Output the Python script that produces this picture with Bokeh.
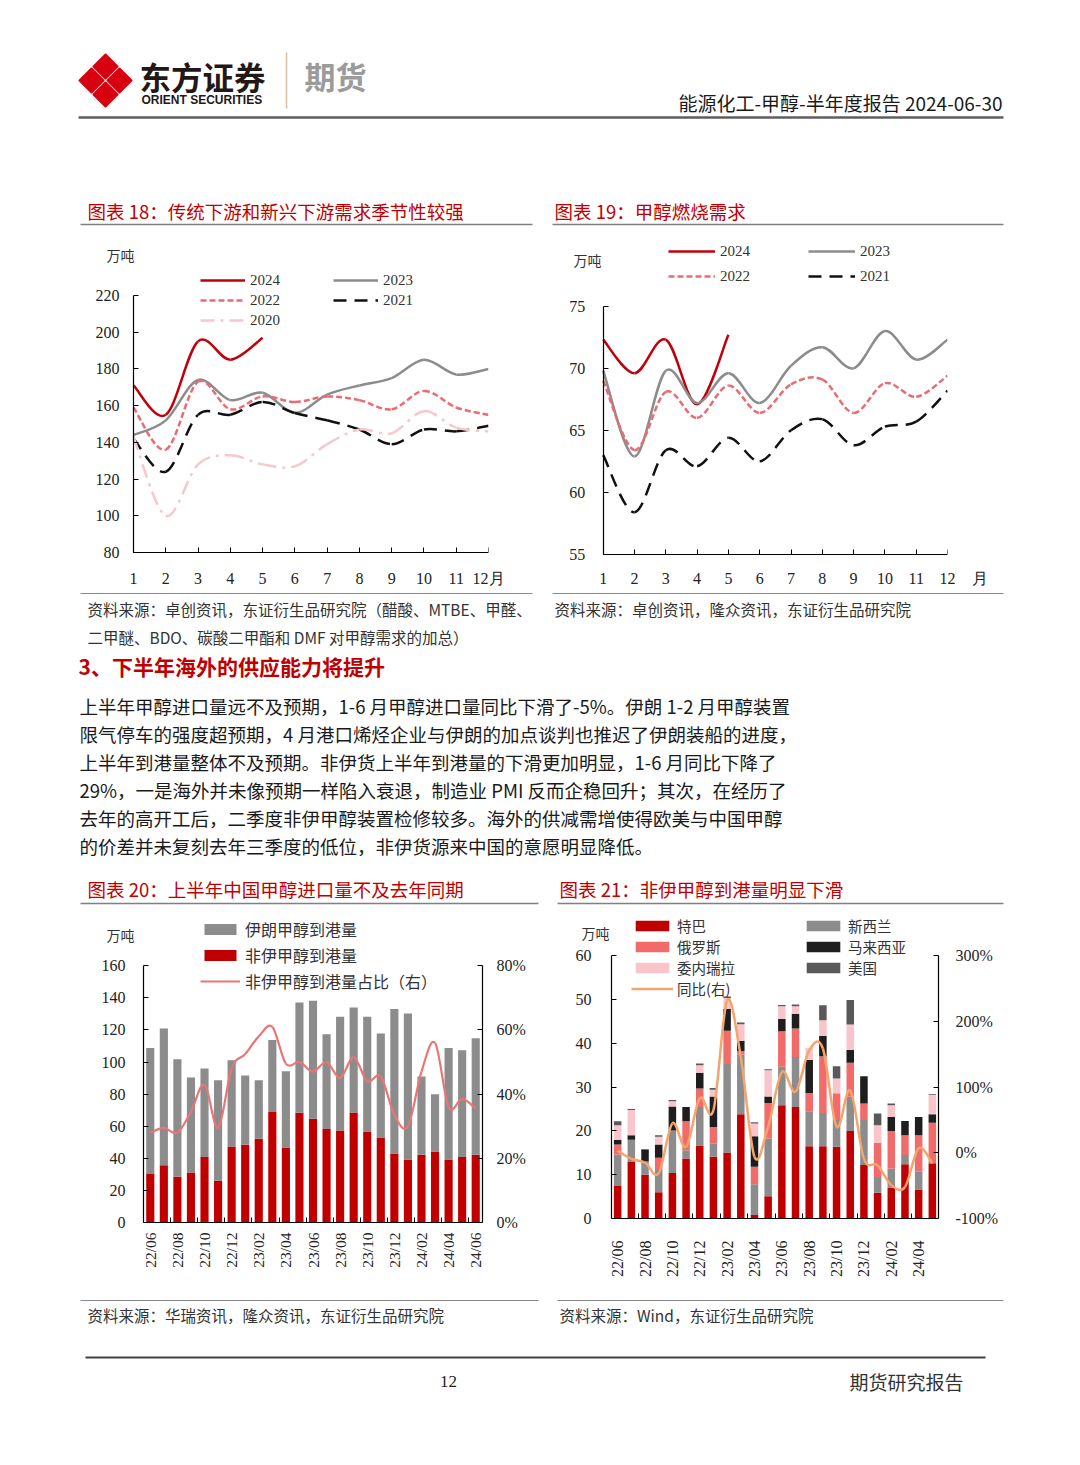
import math
from bokeh.plotting import figure
from bokeh.models import (Range1d, LinearAxis, FixedTicker, Legend, LegendItem, Label,
                          ColumnDataSource, PrintfTickFormatter)
from bokeh.layouts import column, row
from bokeh.core.properties import value
from bokeh.embed import file_html
from bokeh.resources import INLINE

CJK = "Noto Sans CJK SC"
SERIF = "Liberation Serif"
RED = "#C00000"

# ---------------- data ----------------
months = [1, 2, 3, 4, 5, 6, 7, 8, 9, 10, 11, 12]

# chart 18 (万吨)
c18_2024 = [171, 155, 195, 185, 197]
c18_2023 = [144, 152, 174, 163, 167, 156, 166, 171, 175, 185, 177, 180]
c18_2022 = [159, 136, 173, 158, 165, 162, 165, 163, 158, 168, 159, 155]
c18_2021 = [142, 124, 155, 155, 162, 156, 152, 147, 139, 147, 146, 149]
c18_2020 = [143, 100, 128, 133, 128, 127, 139, 147, 145, 157, 148, 146]

# chart 19 (万吨)
c19_2024 = [72.3, 69.6, 72.3, 67.1, 72.7]
c19_2023 = [69.8, 62.9, 69.8, 67.2, 69.6, 67.2, 70.2, 71.7, 70.0, 73.0, 70.7, 72.3]
c19_2022 = [69.0, 63.4, 68.1, 66.0, 68.6, 66.4, 68.7, 69.1, 66.4, 68.8, 67.7, 69.4]
c19_2021 = [63.0, 58.4, 63.4, 62.1, 64.4, 62.5, 65.0, 65.9, 63.8, 65.3, 65.7, 68.2]

# chart 20
cat20 = ["22/06", "22/07", "22/08", "22/09", "22/10", "22/11", "22/12", "23/01", "23/02",
         "23/03", "23/04", "23/05", "23/06", "23/07", "23/08", "23/09", "23/10", "23/11",
         "23/12", "24/01", "24/02", "24/03", "24/04", "24/05", "24/06"]
non_iran = [30.3, 35.7, 28.5, 31.2, 40.9, 26.0, 47.4, 48.4, 52.2, 68.8, 46.8, 68.4, 64.6,
            58.2, 57.4, 68.6, 56.7, 53.0, 43.0, 39.3, 42.2, 44.3, 39.3, 40.9, 42.2]
iran = [78.4, 85.2, 73.3, 59.2, 55.1, 62.7, 53.8, 43.2, 36.5, 44.9, 47.5, 68.7, 73.6,
        59.2, 70.8, 65.4, 71.5, 64.8, 90.0, 91.0, 48.8, 35.7, 69.4, 66.5, 72.7]
non_iran_share = [28, 29.5, 28, 34.5, 43, 29.5, 48, 52.5, 58, 61, 49.5, 50, 47, 50, 45,
                  51.5, 44, 45.5, 33.5, 30, 47, 56, 36, 38.5, 35.5]

# chart 21
cat21 = ["22/06", "22/07", "22/08", "22/09", "22/10", "22/11", "22/12", "23/01", "23/02",
         "23/03", "23/04", "23/05", "23/06", "23/07", "23/08", "23/09", "23/10", "23/11",
         "23/12", "24/01", "24/02", "24/03", "24/04", "24/05"]
tb = [7.4, 13.0, 10.0, 6.0, 10.4, 13.7, 16.7, 14.1, 15.1, 23.8, 0.8, 5.1, 25.9, 25.5, 16.5,
      16.5, 16.4, 20.0, 12.2, 5.9, 7.0, 12.4, 6.6, 12.6]
nz = [7.2, 5.0, 3.0, 5.1, 9.7, 1.9, 8.8, 3.0, 20.2, 13.7, 7.0, 13.2, 8.8, 11.4, 7.9, 7.6,
      6.1, 7.8, 10.3, 3.6, 4.4, 2.1, 4.1, 0.0]
ru = [2.3, 0.0, 0.0, 2.8, 0.0, 6.6, 4.2, 3.8, 7.6, 0.8, 4.0, 8.1, 8.1, 6.5, 4.3, 13.0, 6.1,
      7.8, 3.8, 7.8, 8.6, 4.5, 8.3, 9.3]
my = [1.1, 1.0, 2.7, 3.0, 5.5, 3.3, 3.6, 7.0, 5.0, 2.3, 7.0, 1.5, 2.8, 3.4, 7.5, 4.6, 0.0,
      2.9, 6.2, 0.0, 3.2, 3.3, 4.2, 1.9]
ve = [3.3, 5.8, 0.0, 1.8, 1.2, 0.0, 1.7, 1.5, 2.5, 3.8, 2.9, 6.0, 2.9, 1.7, 2.8, 3.6, 3.4,
      5.8, 0.0, 4.0, 2.7, 0.0, 0.0, 4.4]
us = [0.9, 0.2, 0.2, 0.3, 0.3, 0.0, 0.4, 0.4, 0.3, 0.4, 0.3, 0.2, 0.3, 0.4, 0.0, 3.4, 2.8,
      5.6, 0.0, 2.7, 0.4, 0.0, 0.0, 0.2]
yoy = [3, -9, -15, -31, 45, 9, 83, 65, 232, 146, -6, 40, 123, 93, 156, 159, 40, 95, -9,
       -19, -49, -52, 7, -16]

para = [
    "上半年甲醇进口量远不及预期，1-6 月甲醇进口量同比下滑了-5%。伊朗 1-2 月甲醇装置",
    "限气停车的强度超预期，4 月港口烯烃企业与伊朗的加点谈判也推迟了伊朗装船的进度，",
    "上半年到港量整体不及预期。非伊货上半年到港量的下滑更加明显，1-6  月同比下降了",
    "29%，一是海外并未像预期一样陷入衰退，制造业 PMI 反而企稳回升；其次，在经历了",
    "去年的高开工后，二季度非伊甲醇装置检修较多。海外的供减需增使得欧美与中国甲醇",
    "的价差并未复刻去年三季度的低位，非伊货源来中国的意愿明显降低。",
]


# ---------------- helpers ----------------
def smooth_src(xs, ys):
    n = len(xs)
    d = dict(x0=[], y0=[], x1=[], y1=[], cx0=[], cy0=[], cx1=[], cy1=[])
    for i in range(n - 1):
        a = max(i - 1, 0)
        b = min(i + 2, n - 1)
        d["x0"].append(xs[i]); d["y0"].append(ys[i])
        d["x1"].append(xs[i + 1]); d["y1"].append(ys[i + 1])
        d["cx0"].append(xs[i] + (xs[i + 1] - xs[a]) / 6.0)
        d["cy0"].append(ys[i] + (ys[i + 1] - ys[a]) / 6.0)
        d["cx1"].append(xs[i + 1] - (xs[b] - xs[i]) / 6.0)
        d["cy1"].append(ys[i + 1] - (ys[b] - ys[i]) / 6.0)
    return ColumnDataSource(d)


def smooth_line(p, xs, ys, **kw):
    return p.bezier(x0="x0", y0="y0", x1="x1", y1="y1", cx0="cx0", cy0="cy0",
                    cx1="cx1", cy1="cy1", source=smooth_src(xs, ys), **kw)


def band(w, h, top):
    p = figure(width=w, height=h, x_range=Range1d(0, w), y_range=Range1d(top + h, top),
               x_axis_type=None, y_axis_type=None, output_backend="svg",
               toolbar_location=None, min_border=0, title=None)
    p.min_border_left = p.min_border_right = p.min_border_top = p.min_border_bottom = 0
    p.outline_line_color = None
    p.background_fill_color = "white"
    return p


def txt(p, x, y, s, size, color="#222222", font=CJK, align="left", bold=False):
    p.text(x=[x], y=[y], text=[s], text_font=value(font), text_font_size=size,
           text_color=color, text_align=align, text_baseline="middle",
           text_font_style="bold" if bold else "normal")


def hline(p, x0, x1, y, color="#808080", w=1.5):
    p.segment(x0=[x0], y0=[y], x1=[x1], y1=[y], line_color=color, line_width=w)


def chart(w, h, l, r, t, b, xr, yr):
    p = figure(width=w, height=h, x_range=Range1d(*xr), y_range=Range1d(*yr),
               output_backend="svg", toolbar_location=None, title=None,
               min_border_left=l, min_border_right=r, min_border_top=t, min_border_bottom=b)
    p.outline_line_color = None
    p.grid.visible = False
    p.background_fill_color = "white"
    return p


def style_axis(ax, size="16px", standoff=10, font=SERIF):
    ax.axis_line_color = "black"
    ax.axis_line_width = 1.2
    ax.major_tick_in = 5
    ax.major_tick_out = 0
    ax.major_tick_line_color = "black"
    ax.minor_tick_line_color = None
    ax.major_label_text_font = font
    ax.major_label_text_font_size = size
    ax.major_label_text_color = "#222222"
    ax.major_label_standoff = standoff


def label_only(ax, ticks, overrides, size, standoff, orientation=None):
    """Bottom axis in the panel that only carries the category / month labels."""
    ax.ticker = FixedTicker(ticks=ticks)
    if overrides:
        ax.major_label_overrides = overrides
    ax.axis_line_color = None
    ax.major_tick_line_color = None
    ax.minor_tick_line_color = None
    ax.major_label_text_font = SERIF
    ax.major_label_text_font_size = size
    ax.major_label_text_color = "#222222"
    ax.major_label_standoff = standoff
    if orientation is not None:
        ax.major_label_orientation = orientation


def line_x_axis(p, loc, tick_marks, bounds):
    """Bottom axis drawn at a data location: axis line and tick marks only (no labels)."""
    ax = LinearAxis(fixed_location=loc, bounds=bounds,
                    ticker=FixedTicker(ticks=[], minor_ticks=tick_marks))
    ax.axis_line_color = "black"
    ax.axis_line_width = 1.2
    ax.major_tick_line_color = None
    ax.minor_tick_in = 5
    ax.minor_tick_out = 0
    ax.minor_tick_line_color = "black"
    ax.major_label_standoff = 0
    p.add_layout(ax, "below")
    return ax


def add_legend(p, items, x, y, gw, gh, spacing, font, size, standoff=5):
    lg = Legend(items=items, location=(x, y), orientation="vertical",
                glyph_width=gw, glyph_height=gh, label_height=gh, label_width=10,
                spacing=spacing, padding=0, margin=0, label_standoff=standoff,
                border_line_color=None, background_fill_alpha=0,
                label_text_font=font, label_text_font_size=size,
                label_text_color="#333333")
    p.add_layout(lg)


def unit_label(p, x, y, s="万吨"):
    p.add_layout(Label(x=x, y=y, text=s, text_font=CJK, text_font_size="14px",
                       text_color="#333333", text_align="center", text_baseline="middle"))


# ---------------- band A: header (page y 0..228) ----------------
bandA = band(1072, 228, 0)
cx, cy, d, o = 105, 80, 12, 14
logo_xs, logo_ys = [], []
for dx, dy in [(0, -o), (o, 0), (0, o), (-o, 0)]:
    px, py = cx + dx, cy + dy
    logo_xs.append([px, px + d, px, px - d])
    logo_ys.append([py - d, py, py + d, py])
bandA.patches(xs=logo_xs, ys=logo_ys, fill_color="#D7000F", line_color="#D7000F", line_width=2,
              line_join="round")
txt(bandA, 139, 75, "东方证券", "31.5px", "#231815", bold=True)
txt(bandA, 141, 99.5, "ORIENT SECURITIES", "12px", "#231815", font="Liberation Sans", bold=True)
bandA.segment(x0=[286], y0=[52], x1=[286], y1=[108], line_color="#D9BF9C", line_width=1.5)
txt(bandA, 304, 75, "期货", "31px", "#9B9B9B", bold=True)
txt(bandA, 1002, 102, "能源化工-甲醇-半年度报告 2024-06-30", "19px", "#1a1a1a", align="right")
hline(bandA, 78, 1003, 117, "#5E5E5E", 2.5)
txt(bandA, 87, 210, "图表 18：传统下游和新兴下游需求季节性较强", "18.5px", RED)
txt(bandA, 554, 210, "图表 19：甲醇燃烧需求", "18.5px", RED)
hline(bandA, 80, 532, 224)
hline(bandA, 552, 1003, 224)

# ---------------- chart 18 (page y 228..590) ----------------
# frame: x 60..488 (1 -> 133, 12 -> 488), y 238..562 (80 -> 552, 220 -> 295)
p18 = chart(510, 362, 60, 22, 10, 28, (-1.262, 12), (74.553, 251.05))
l24 = smooth_line(p18, months[:5], c18_2024, line_color="#C0000B", line_width=2.5)
l23 = smooth_line(p18, months, c18_2023, line_color="#8C8C8C", line_width=2.5)
l22 = smooth_line(p18, months, c18_2022, line_color="#EA6B73", line_width=2.5, line_dash="6 3")
l21 = smooth_line(p18, months, c18_2021, line_color="#111111", line_width=2.5, line_dash="13 8")
l20 = smooth_line(p18, months, c18_2020, line_color="#F6C7CC", line_width=2.5, line_dash="14 6 3 6")
label_only(p18.xaxis[0], months, {12: "12月"}, "16px", 1)
line_x_axis(p18, 80, months, (1, 12))
ya = p18.yaxis[0]
ya.ticker = FixedTicker(ticks=[80, 100, 120, 140, 160, 180, 200, 220])
ya.bounds = (80, 220)
ya.fixed_location = 1
style_axis(ya, standoff=14)
add_legend(p18, [LegendItem(label="2024", renderers=[l24]),
                 LegendItem(label="2022", renderers=[l22]),
                 LegendItem(label="2020", renderers=[l20])], 140, 233.5, 45, 14, 3, SERIF, "15px")
add_legend(p18, [LegendItem(label="2023", renderers=[l23]),
                 LegendItem(label="2021", renderers=[l21])], 273, 253.5, 45, 14, 3, SERIF, "15px")
unit_label(p18, 0.597, 241.8)

# ---------------- chart 19 (page y 228..590) ----------------
# frame: x 555..947 (1 -> 602.7, 12 -> 947), y 238..562 (55 -> 554, 75 -> 306)
p19 = chart(562, 362, 45, 125, 10, 28, (-0.524, 12), (54.356, 80.45))
m24 = smooth_line(p19, months[:5], c19_2024, line_color="#C0000B", line_width=2.5)
m23 = smooth_line(p19, months, c19_2023, line_color="#8C8C8C", line_width=2.5)
m22 = smooth_line(p19, months, c19_2022, line_color="#EA6B73", line_width=2.5, line_dash="6 3")
m21 = smooth_line(p19, months, c19_2021, line_color="#111111", line_width=2.5, line_dash="13 8")
label_only(p19.xaxis[0], months, {12: "\u2003\u200312\u2003月"}, "16px", 1)
line_x_axis(p19, 55, months, (1, 12))
yb = p19.yaxis[0]
yb.ticker = FixedTicker(ticks=[55, 60, 65, 70, 75])
yb.bounds = (55, 75)
yb.fixed_location = 1
style_axis(yb, standoff=18)
add_legend(p19, [LegendItem(label="2024", renderers=[m24]),
                 LegendItem(label="2022", renderers=[m22])], 113, 277.5, 47, 14, 8, SERIF, "15px")
add_legend(p19, [LegendItem(label="2023", renderers=[m23]),
                 LegendItem(label="2021", renderers=[m21])], 253, 277.5, 47, 14, 8, SERIF, "15px")
unit_label(p19, 0.498, 78.7)

# ---------------- band B (page y 590..905) ----------------
bandB = band(1072, 315, 590)
hline(bandB, 80, 532, 593, "#8A8A8A", 1.2)
hline(bandB, 552, 1003, 593, "#8A8A8A", 1.2)
txt(bandB, 87, 608, "资料来源：卓创资讯，东证衍生品研究院（醋酸、MTBE、甲醛、", "15.5px", "#333333")
txt(bandB, 87, 636, "二甲醚、BDO、碳酸二甲酯和 DMF 对甲醇需求的加总）", "15.5px", "#333333")
txt(bandB, 554, 608, "资料来源：卓创资讯，隆众资讯，东证衍生品研究院", "15.5px", "#333333")
txt(bandB, 78, 665, "3、下半年海外的供应能力将提升", "21px", RED, bold=True)
for i, line in enumerate(para):
    txt(bandB, 79, 705 + 28 * i, line, "18.5px", "#1a1a1a")
txt(bandB, 87, 888, "图表 20：上半年中国甲醇进口量不及去年同期", "18.5px", RED)
txt(bandB, 559, 888, "图表 21：非伊甲醇到港量明显下滑", "18.5px", RED)
hline(bandB, 80, 538, 903)
hline(bandB, 557, 1003, 903)

# ---------------- chart 20 (page y 905..1298) ----------------
# frame: x 60..482 (-0.5 -> 143, 24.5 -> 482), y 912..1232 (0 -> 1222, 160 -> 965)
x20 = list(range(len(cat20)))
p20 = chart(535, 393, 60, 53, 7, 66, (-6.621, 24.5), (-6.233, 193.22))
p20.extra_y_ranges = {"pct": Range1d(-3.116, 96.61)}
src20 = ColumnDataSource(dict(x=x20, non_iran=non_iran, iran=iran))
bars20 = p20.vbar_stack(["non_iran", "iran"], x="x", width=0.6, source=src20,
                        color=[RED, "#8C8C8C"], line_width=0)
share = smooth_line(p20, x20, non_iran_share, line_color="#EB7474", line_width=2.2,
                    y_range_name="pct")
yc = p20.yaxis[0]
yc.ticker = FixedTicker(ticks=[0, 20, 40, 60, 80, 100, 120, 140, 160])
yc.bounds = (0, 160)
yc.fixed_location = -0.5
style_axis(yc, standoff=18)
ax20r = LinearAxis(y_range_name="pct", ticker=FixedTicker(ticks=[0, 20, 40, 60, 80]),
                   formatter=PrintfTickFormatter(format="%d%%"), bounds=(0, 80))
p20.add_layout(ax20r, "right")
style_axis(ax20r, standoff=14)
label_only(p20.xaxis[0], x20[::2], {i: cat20[i] for i in x20[::2]}, "15.5px", -6, math.pi / 2)
line_x_axis(p20, 0, [i + 0.5 for i in range(1, 24, 2)], (-0.5, 24.5))
add_legend(p20, [LegendItem(label="伊朗甲醇到港量", renderers=[bars20[1]]),
                 LegendItem(label="非伊甲醇到港量", renderers=[bars20[0]]),
                 LegendItem(label="非伊甲醇到港量占比（右）", renderers=[share])],
           140, 238.8, 40, 14, 2, CJK, "16px")
unit_label(p20, -2.196, 178.9)

# ---------------- chart 21 (page y 905..1298) ----------------
# frame: x 573..938 (-0.45 -> 611, 23.45 -> 938), y 912..1232 (0 -> 1218, 60 -> 955.4)
x21 = list(range(len(cat21)))
p21 = chart(537, 393, 38, 134, 7, 66, (-3.228, 23.45), (-3.199, 69.92))
p21.extra_y_ranges = {"pct": Range1d(-121.33, 366.1)}
src21 = ColumnDataSource(dict(x=x21, tb=tb, nz=nz, ru=ru, my=my, ve=ve, us=us))
bars21 = p21.vbar_stack(["tb", "nz", "ru", "my", "ve", "us"], x="x", width=0.55, source=src21,
                        color=[RED, "#8C8C8C", "#F26B6B", "#1E1E1E", "#F9C5CB", "#595959"],
                        line_width=0)
yl = smooth_line(p21, x21, yoy, line_color="#F4A46C", line_width=2.5, y_range_name="pct")
yd = p21.yaxis[0]
yd.ticker = FixedTicker(ticks=[0, 10, 20, 30, 40, 50, 60])
yd.bounds = (0, 60)
yd.fixed_location = -0.45
style_axis(yd, standoff=20)
ax21r = LinearAxis(y_range_name="pct", ticker=FixedTicker(ticks=[-100, 0, 100, 200, 300]),
                   formatter=PrintfTickFormatter(format="%d%%"), bounds=(-100, 300))
p21.add_layout(ax21r, "right")
style_axis(ax21r, standoff=17)
label_only(p21.xaxis[0], x21[::2], {i: cat21[i] for i in x21[::2]}, "16px", 2, math.pi / 2)
line_x_axis(p21, 0, [i + 0.5 for i in range(1, 23, 2)], (-0.45, 23.45))
add_legend(p21, [LegendItem(label="特巴", renderers=[bars21[0]]),
                 LegendItem(label="俄罗斯", renderers=[bars21[2]]),
                 LegendItem(label="委内瑞拉", renderers=[bars21[4]]),
                 LegendItem(label="同比(右)", renderers=[yl])],
           58, 233.5, 42, 13, 0, CJK, "14.5px", standoff=4)
add_legend(p21, [LegendItem(label="新西兰", renderers=[bars21[1]]),
                 LegendItem(label="马来西亚", renderers=[bars21[3]]),
                 LegendItem(label="美国", renderers=[bars21[5]])],
           229, 254.5, 42, 13, 0, CJK, "14.5px", standoff=4)
unit_label(p21, -1.62, 65.3)

# ---------------- band C (page y 1298..1460) ----------------
bandC = band(1072, 162, 1298)
hline(bandC, 80, 538, 1300, "#8A8A8A", 1.2)
hline(bandC, 557, 1003, 1300, "#8A8A8A", 1.2)
txt(bandC, 87, 1314, "资料来源：华瑞资讯，隆众资讯，东证衍生品研究院", "15.5px", "#333333")
txt(bandC, 559, 1314, "资料来源：Wind，东证衍生品研究院", "15.5px", "#333333")
hline(bandC, 85, 985, 1357, "#404040", 2)
txt(bandC, 448, 1381, "12", "17px", "#222222", font=SERIF, align="center")
txt(bandC, 849, 1381, "期货研究报告", "19px", "#333333")

page = column(bandA, row(p18, p19, spacing=0), bandB, row(p20, p21, spacing=0), bandC,
              spacing=0)

open("out.html", "w").write(file_html(page, INLINE))
